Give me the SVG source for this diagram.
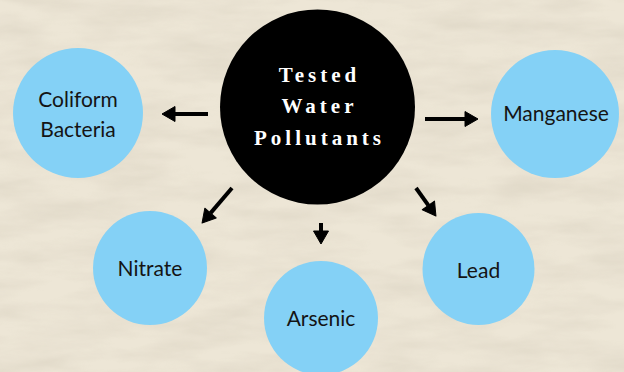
<svg xmlns="http://www.w3.org/2000/svg" width="624" height="372" viewBox="0 0 624 372">
  <defs>
    <filter id="paper" x="0" y="0" width="100%" height="100%">
      <feTurbulence type="fractalNoise" baseFrequency="0.012 0.05" numOctaves="4" seed="7" result="n"/>
      <feColorMatrix in="n" type="matrix" values="0 0 0 0 0.55  0 0 0 0 0.50  0 0 0 0 0.40  0 0 0 0.9 -0.3" result="c"/>
      <feComposite in="c" in2="SourceGraphic" operator="in"/>
    </filter>
    <marker id="head" markerUnits="userSpaceOnUse" markerWidth="16" markerHeight="18" viewBox="0 0 16 18" refX="0" refY="9" orient="auto" overflow="visible">
      <path d="M0,1.5 L13,9 L0,16.5 Z" fill="#000" stroke="#000" stroke-width="1" stroke-linejoin="round"/>
    </marker>
    <style>
      .bubble { fill: #84d1f6; }
      .lbl { font-family: Lato, "Noto Sans", sans-serif; font-size: 21px; fill: #141414; text-anchor: middle; }
      .title { font-family: "Liberation Serif", "DejaVu Serif", serif; font-weight: bold; font-size: 21px; letter-spacing: 4px; fill: #fff; text-anchor: middle; }
      .conn line { stroke: #000; stroke-width: 4; marker-end: url(#head); }
    </style>
  </defs>

  <rect width="624" height="372" fill="#ede6d6"/>
  <rect width="624" height="372" fill="#ede6d6" filter="url(#paper)" opacity="0.55"/>

  <g id="connectors" class="conn">
    <line x1="208" y1="114" x2="175" y2="114"/>
    <line x1="425" y1="119" x2="465" y2="119"/>
    <line x1="232" y1="188" x2="210.5" y2="213.1"/>
    <line x1="321" y1="223" x2="321" y2="231"/>
    <line x1="416" y1="188" x2="428.4" y2="205.4"/>
  </g>

  <g id="center">
    <circle cx="317.5" cy="107" r="97.5" fill="#000"/>
    <text class="title" x="319.5" y="82">Tested</text>
    <text class="title" x="319.5" y="113">Water</text>
    <text class="title" x="319.5" y="145">Pollutants</text>
  </g>

  <g id="coliform">
    <circle class="bubble" cx="78" cy="113" r="65"/>
    <text class="lbl" x="78" y="107">Coliform</text>
    <text class="lbl" x="78" y="137">Bacteria</text>
  </g>

  <g id="manganese">
    <circle class="bubble" cx="555" cy="114" r="64"/>
    <text class="lbl" x="556" y="121">Manganese</text>
  </g>

  <g id="nitrate">
    <circle class="bubble" cx="150" cy="268" r="57"/>
    <text class="lbl" x="150" y="276">Nitrate</text>
  </g>

  <g id="arsenic">
    <circle class="bubble" cx="321" cy="318" r="57"/>
    <text class="lbl" x="321" y="326">Arsenic</text>
  </g>

  <g id="lead">
    <circle class="bubble" cx="478.5" cy="269" r="56"/>
    <text class="lbl" x="478.5" y="278">Lead</text>
  </g>
</svg>
